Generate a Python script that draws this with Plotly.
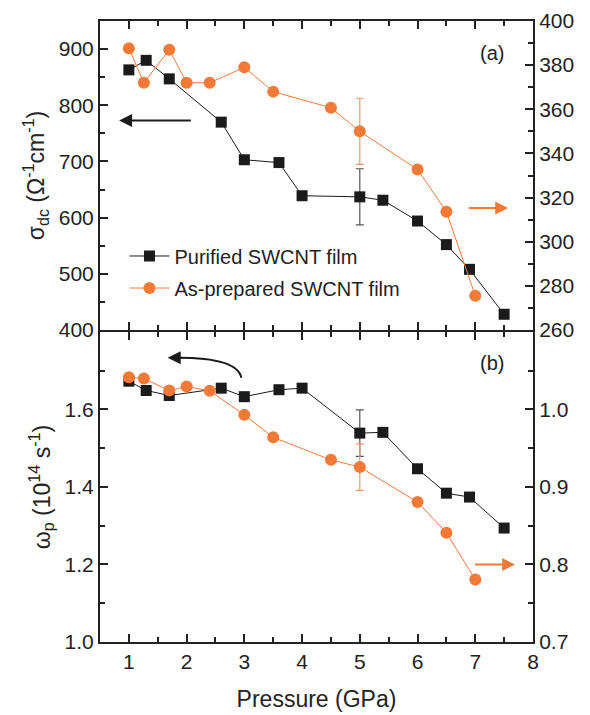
import plotly.graph_objects as go

# ---------------- data ----------------
# panel (a): sigma_dc
p_pur_a = [1.0, 1.3, 1.7, 2.6, 3.0, 3.6, 4.0, 5.0, 5.4, 6.0, 6.5, 6.9, 7.5]
sigma_pur = [863, 880, 847, 770, 703, 698, 639, 637, 631, 594, 552, 508, 428]
sigma_pur_err = [None, None, None, None, None, None, None, 50, None, None, None, None, None]

p_asp_a = [1.0, 1.26, 1.7, 2.0, 2.4, 3.0, 3.5, 4.5, 5.0, 6.0, 6.5, 7.0]
sigma_asp = [387.6, 372, 387, 372, 372, 379, 368, 360.7, 350, 332.7, 313.6, 275.5]
sigma_asp_err = [None, None, None, None, None, None, None, None, 15, None, None, None]

# panel (b): omega_p
p_pur_b = [1.0, 1.3, 1.7, 2.6, 3.0, 3.6, 4.0, 5.0, 5.4, 6.0, 6.5, 6.9, 7.5]
omega_pur = [1.673, 1.649, 1.636, 1.655, 1.633, 1.651, 1.655, 1.539, 1.541, 1.447, 1.384, 1.374, 1.294]
omega_pur_err = [None, None, None, None, None, None, None, 0.06, None, None, None, None, None]

p_asp_b = [1.0, 1.26, 1.7, 2.0, 2.4, 3.0, 3.5, 4.5, 5.0, 6.0, 6.5, 7.0]
omega_asp = [1.0415, 1.040, 1.0243, 1.0295, 1.024, 0.993, 0.964, 0.935, 0.9256, 0.8806, 0.841, 0.7807]
omega_asp_err = [None, None, None, None, None, None, None, None, 0.03, None, None, None]

name_pur = "Purified SWCNT film"
name_asp = "As-prepared SWCNT film"

BLACK = "#1b1b1b"
ORANGE = "#f27a36"
FONT = "Arial, Liberation Sans, Helvetica, sans-serif"
TXT = "#222222"

fig = go.Figure()

# panel (a)
fig.add_trace(go.Scatter(
    x=p_pur_a, y=sigma_pur, name=name_pur, mode="lines+markers",
    line=dict(color=BLACK, width=1),
    marker=dict(symbol="square", size=11, color=BLACK),
    error_y=dict(type="data", array=sigma_pur_err, color="#555555", thickness=1.2, width=4),
    xaxis="x2", yaxis="y3", legend="legend"))
fig.add_trace(go.Scatter(
    x=p_asp_a, y=sigma_asp, name=name_asp, mode="lines+markers",
    line=dict(color=ORANGE, width=1),
    marker=dict(symbol="circle", size=12, color=ORANGE),
    error_y=dict(type="data", array=sigma_asp_err, color="#f39a66", thickness=1.2, width=4),
    xaxis="x2", yaxis="y4", legend="legend2"))

# panel (b)
fig.add_trace(go.Scatter(
    x=p_pur_b, y=omega_pur, name=name_pur, mode="lines+markers",
    line=dict(color=BLACK, width=1),
    marker=dict(symbol="square", size=11, color=BLACK),
    error_y=dict(type="data", array=omega_pur_err, color="#555555", thickness=1.2, width=4),
    xaxis="x", yaxis="y", showlegend=False))
fig.add_trace(go.Scatter(
    x=p_asp_b, y=omega_asp, name=name_asp, mode="lines+markers",
    line=dict(color=ORANGE, width=1),
    marker=dict(symbol="circle", size=12, color=ORANGE),
    error_y=dict(type="data", array=omega_asp_err, color="#f39a66", thickness=1.2, width=4),
    xaxis="x", yaxis="y2", showlegend=False))

split = 0.5008
gap = 1.0 / 621
tickfont = dict(family=FONT, size=21, color=TXT)
minor_cfg = dict(ticks="inside", ticklen=5, tickwidth=1.5, tickcolor="#222222")
common_axis = dict(showline=True, linewidth=2, linecolor="#222222", ticks="inside",
                   ticklen=8, tickwidth=1.5, tickcolor="#222222", showgrid=False,
                   zeroline=False, tickfont=tickfont, automargin=False)

fig.update_layout(
    width=590, height=715,
    margin=dict(l=100, r=57, t=21, b=73),
    plot_bgcolor="white", paper_bgcolor="white",
    font=dict(family=FONT, color=TXT),
    xaxis=dict(common_axis, anchor="y", domain=[0, 1], range=[0.5, 8], tick0=1, dtick=1,
               mirror="ticks",
               minor=dict(minor_cfg, dtick=0.5, tick0=0.5),
               title=dict(text="Pressure (GPa)", font=dict(family=FONT, size=23, color=TXT), standoff=19)),
    xaxis2=dict(common_axis, anchor="y3", matches="x", range=[0.5, 8], tick0=1, dtick=1,
                mirror="ticks", showticklabels=False,
                minor=dict(minor_cfg, dtick=0.5, tick0=0.5)),
    yaxis=dict(common_axis, domain=[0, split - gap], anchor="x", range=[1.0, 1.7999], tick0=1.0, dtick=0.2,
               tickformat=".1f",
               minor=dict(minor_cfg, dtick=0.1, tick0=1.0),
               title=dict(text="ω<sub>p</sub> (10<sup>14</sup> s<sup>-1</sup>)",
                          font=dict(family=FONT, size=23, color=TXT), standoff=8)),
    yaxis2=dict(common_axis, overlaying="y", side="right", anchor="x", range=[0.7, 1.0999],
                tick0=0.7, dtick=0.1, tickformat=".1f",
                minor=dict(minor_cfg, dtick=0.05, tick0=0.7)),
    yaxis3=dict(common_axis, domain=[split + gap, 1], anchor="x2", range=[400, 950], tick0=400, dtick=100,
                minor=dict(minor_cfg, dtick=50, tick0=400),
                title=dict(text="σ<sub>dc</sub> (Ω<sup>-1</sup>cm<sup>-1</sup>)",
                           font=dict(family=FONT, size=23, color=TXT), standoff=8)),
    yaxis4=dict(common_axis, overlaying="y3", side="right", anchor="x2", range=[260, 400],
                tick0=260, dtick=20,
                minor=dict(minor_cfg, dtick=10, tick0=260)),
    legend=dict(x=0.0565, y=0.6216, xanchor="left", yanchor="middle", bgcolor="rgba(0,0,0,0)",
                font=dict(family=FONT, size=20, color=TXT), itemwidth=40),
    legend2=dict(x=0.0565, y=0.570, xanchor="left", yanchor="middle", bgcolor="rgba(0,0,0,0)",
                 font=dict(family=FONT, size=20, color=TXT), itemwidth=40),
)

# panel labels
fig.add_annotation(text="(a)", xref="paper", yref="paper", x=0.905, y=0.948, showarrow=False,
                   xanchor="center", yanchor="middle", font=dict(family=FONT, size=20, color=TXT))
fig.add_annotation(text="(b)", xref="paper", yref="paper", x=0.905, y=0.449, showarrow=False,
                   xanchor="center", yanchor="middle", font=dict(family=FONT, size=20, color=TXT))

# axis-pointing arrows
fig.add_annotation(x=0.83, y=773, xref="x2", yref="y3", ax=2.10, ay=773, axref="x2", ayref="y3",
                   showarrow=True, arrowhead=2, arrowsize=1.3, arrowwidth=2, arrowcolor=BLACK, text="")
fig.add_annotation(x=7.57, y=315.3, xref="x2", yref="y4", ax=6.86, ay=315.3, axref="x2", ayref="y4",
                   showarrow=True, arrowhead=2, arrowsize=1.3, arrowwidth=2, arrowcolor=ORANGE, text="")
fig.add_annotation(x=7.69, y=0.80, xref="x", yref="y2", ax=6.97, ay=0.80, axref="x", ayref="y2",
                   showarrow=True, arrowhead=2, arrowsize=1.3, arrowwidth=2, arrowcolor=ORANGE, text="")
# curved arrow (panel b)
fig.add_shape(type="path", xref="x", yref="y", path="M 2.948,1.682 Q 2.88,1.7336 1.85,1.7336",
              line=dict(color=BLACK, width=2))
fig.add_annotation(x=1.672, y=1.7336, xref="x", yref="y", ax=16, ay=0,
                   showarrow=True, arrowhead=2, arrowsize=1.3, arrowwidth=2, arrowcolor=BLACK, text="")

fig.write_html("out.html", config={"displayModeBar": False},
               post_script="document.body.style.margin='0';document.body.style.padding='0';")
